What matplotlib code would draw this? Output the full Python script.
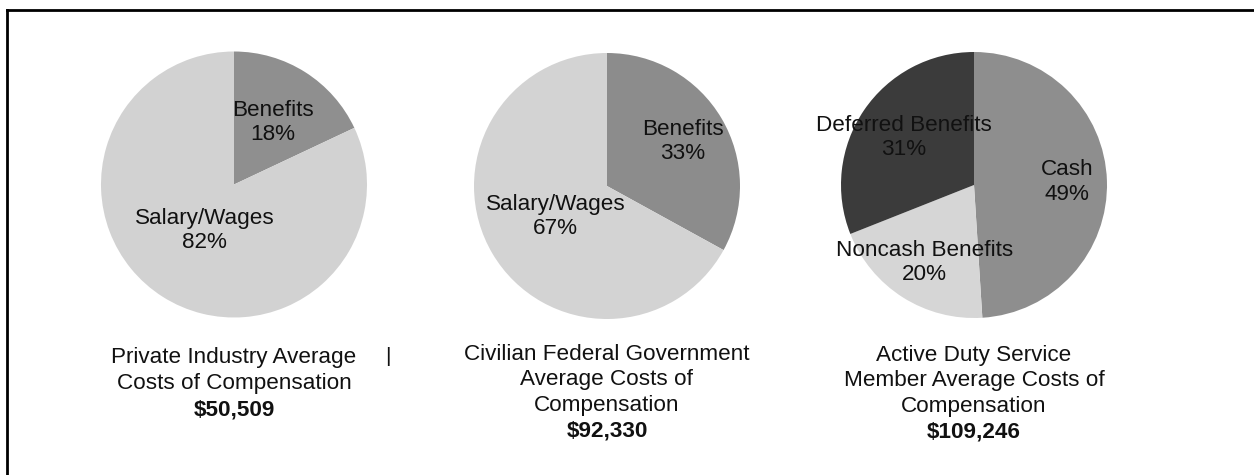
import matplotlib
matplotlib.use("Agg")
import matplotlib.pyplot as plt
from matplotlib.lines import Line2D
import numpy as np

plt.rcParams['font.family'] = ['Liberation Sans', 'DejaVu Sans']

# ---- data ----
pie1_labels = ["Benefits", "Salary/Wages"]
pie1_values = [18, 82]
pie2_labels = ["Benefits", "Salary/Wages"]
pie2_values = [33, 67]
pie3_labels = ["Cash", "Noncash Benefits", "Deferred Benefits"]
pie3_values = [49, 20, 31]

captions = [
    ["Private Industry Average", "Costs of Compensation"],
    ["Civilian Federal Government", "Average Costs of", "Compensation"],
    ["Active Duty Service", "Member Average Costs of", "Compensation"],
]
amounts = ["$50,509", "$92,330", "$109,246"]

# ---- style / layout ----
W, H = 1254, 475
DPI = 100
fig = plt.figure(figsize=(W / DPI, H / DPI), dpi=DPI)
fig.patch.set_facecolor("white")

pies = [
    dict(labels=pie1_labels, values=pie1_values, colors=["#8f8f8f", "#d2d2d2"],
         center=(234, 184.5), dist=[0.55, 0.41]),
    dict(labels=pie2_labels, values=pie2_values, colors=["#8c8c8c", "#d3d3d3"],
         center=(607, 186), dist=[0.66, 0.45]),
    dict(labels=pie3_labels, values=pie3_values, colors=["#8e8e8e", "#d6d6d6", "#3b3b3b"],
         center=(974, 185), dist=[0.70, 0.69, 0.64]),
]
R = 133
caption_top = [358, 354, 355]
pitch = 25.8
FS = 16.2
txt_color = "#111111"

for i, p in enumerate(pies):
    cx, cy = p["center"]
    ax = fig.add_axes([(cx - R) / W, (H - cy - R) / H, 2 * R / W, 2 * R / H])
    lab = [f"{n}\n{v}%" for n, v in zip(p["labels"], p["values"])]
    wedges, texts = ax.pie(p["values"], labels=lab, colors=p["colors"],
                           startangle=90, counterclock=False,
                           wedgeprops=dict(linewidth=0),
                           labeldistance=0.6,
                           textprops=dict(fontsize=FS, color=txt_color,
                                          linespacing=1.2))
    for w, t, d in zip(wedges, texts, p["dist"]):
        ang = np.deg2rad((w.theta1 + w.theta2) / 2)
        t.set_position((d * np.cos(ang), d * np.sin(ang)))
        t.set_ha("center")
        t.set_va("center")
    ax.set_xlim(-1, 1)
    ax.set_ylim(-1, 1)
    ax.set_aspect("equal")
    ax.axis("off")

    # captions
    y = caption_top[i]
    for line in captions[i]:
        fig.text(cx / W, (H - y) / H, line, ha="center", va="center",
                 fontsize=FS, color=txt_color)
        y += pitch
    fig.text(cx / W, (H - y) / H, amounts[i], ha="center", va="center",
             fontsize=FS, fontweight="bold", color=txt_color)

# stray mark
fig.text(388 / W, (H - 357) / H, "|", ha="center", va="center",
         fontsize=15, color=txt_color)

# frame lines (top and left)
fig.add_artist(Line2D([7 / W, 1], [(H - 10) / H, (H - 10) / H],
                      transform=fig.transFigure, color="black", linewidth=2))
fig.add_artist(Line2D([7 / W, 7 / W], [0, (H - 10) / H],
                      transform=fig.transFigure, color="black", linewidth=2))

fig.savefig("out.png", dpi=DPI, facecolor="white")
